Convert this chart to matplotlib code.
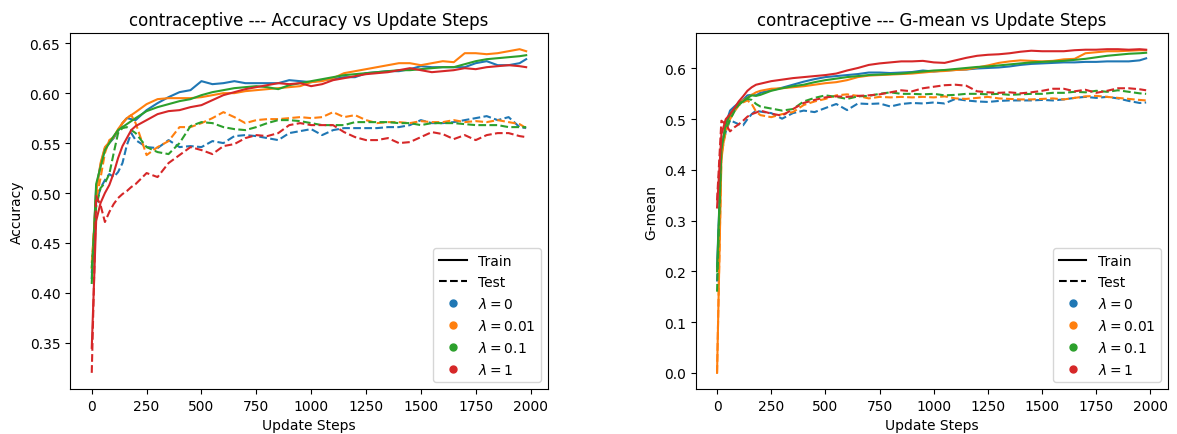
import matplotlib
matplotlib.use("Agg")
import matplotlib.pyplot as plt
from matplotlib.lines import Line2D

steps = [0, 20, 40, 60, 80, 100, 120, 140, 160, 180, 200] + list(range(250, 2000, 50)) + [1980]

lambdas = ["0", "0.01", "0.1", "1"]
colors = ["#1f77b4", "#ff7f0e", "#2ca02c", "#d62728"]

# ---- accuracy ----
acc_train_0 = [0.415, 0.505, 0.528, 0.545, 0.550, 0.555, 0.562, 0.570, 0.575, 0.574, 0.573,
               0.583, 0.590, 0.596, 0.601, 0.603, 0.612, 0.609, 0.610, 0.612, 0.610, 0.610,
               0.610, 0.610, 0.613, 0.612, 0.611, 0.613, 0.614, 0.616, 0.616, 0.620, 0.621,
               0.622, 0.622, 0.624, 0.627, 0.626, 0.626, 0.626, 0.626, 0.630, 0.632, 0.628,
               0.628, 0.630, 0.634]
acc_train_001 = [0.425, 0.500, 0.530, 0.546, 0.551, 0.556, 0.564, 0.570, 0.575, 0.578, 0.581,
                 0.589, 0.594, 0.595, 0.595, 0.595, 0.596, 0.598, 0.600, 0.600, 0.602, 0.603,
                 0.604, 0.605, 0.606, 0.607, 0.611, 0.612, 0.615, 0.620, 0.622, 0.624, 0.626,
                 0.628, 0.630, 0.630, 0.628, 0.630, 0.632, 0.631, 0.640, 0.640, 0.639, 0.640,
                 0.642, 0.644, 0.642]
acc_train_01 = [0.410, 0.509, 0.526, 0.543, 0.550, 0.557, 0.563, 0.566, 0.569, 0.572, 0.575,
                0.582, 0.586, 0.589, 0.592, 0.594, 0.598, 0.601, 0.603, 0.605, 0.606, 0.607,
                0.606, 0.604, 0.608, 0.610, 0.612, 0.614, 0.616, 0.618, 0.619, 0.620, 0.621,
                0.622, 0.623, 0.623, 0.624, 0.625, 0.626, 0.626, 0.629, 0.632, 0.634, 0.635,
                0.636, 0.637, 0.638]
acc_train_1 = [0.345, 0.472, 0.490, 0.500, 0.508, 0.520, 0.535, 0.547, 0.555, 0.563, 0.567,
               0.573, 0.579, 0.582, 0.583, 0.586, 0.588, 0.593, 0.598, 0.601, 0.604, 0.606,
               0.608, 0.610, 0.609, 0.610, 0.607, 0.609, 0.613, 0.615, 0.617, 0.619, 0.620,
               0.621, 0.623, 0.625, 0.623, 0.621, 0.622, 0.623, 0.625, 0.624, 0.626, 0.627,
               0.628, 0.627, 0.626]

acc_test_0 = [0.420, 0.490, 0.505, 0.513, 0.519, 0.516, 0.521, 0.530, 0.548, 0.560, 0.553,
              0.546, 0.545, 0.553, 0.546, 0.547, 0.546, 0.552, 0.550, 0.557, 0.558, 0.557,
              0.555, 0.553, 0.560, 0.562, 0.564, 0.558, 0.563, 0.565, 0.565, 0.565, 0.565,
              0.566, 0.566, 0.568, 0.573, 0.570, 0.570, 0.571, 0.573, 0.575, 0.577, 0.573,
              0.576, 0.566, 0.565]
acc_test_001 = [0.430, 0.493, 0.515, 0.540, 0.553, 0.556, 0.563, 0.570, 0.575, 0.578, 0.570,
                0.538, 0.546, 0.552, 0.566, 0.566, 0.570, 0.575, 0.581, 0.576, 0.570, 0.573,
                0.574, 0.574, 0.575, 0.576, 0.575, 0.576, 0.581, 0.576, 0.578, 0.573, 0.570,
                0.571, 0.571, 0.570, 0.572, 0.571, 0.571, 0.573, 0.571, 0.572, 0.571, 0.573,
                0.571, 0.569, 0.565]
acc_test_01 = [0.425, 0.486, 0.505, 0.510, 0.519, 0.540, 0.560, 0.565, 0.566, 0.563, 0.560,
               0.546, 0.541, 0.539, 0.550, 0.567, 0.571, 0.570, 0.566, 0.564, 0.563, 0.566,
               0.570, 0.573, 0.573, 0.572, 0.570, 0.568, 0.568, 0.568, 0.571, 0.571, 0.571,
               0.571, 0.570, 0.570, 0.568, 0.570, 0.570, 0.570, 0.569, 0.568, 0.568, 0.568,
               0.566, 0.566, 0.566]
acc_test_1 = [0.320, 0.497, 0.488, 0.471, 0.481, 0.489, 0.495, 0.499, 0.502, 0.506, 0.509,
              0.520, 0.516, 0.530, 0.538, 0.546, 0.543, 0.539, 0.547, 0.549, 0.555, 0.558,
              0.557, 0.560, 0.568, 0.570, 0.568, 0.568, 0.568, 0.561, 0.556, 0.553, 0.553,
              0.555, 0.550, 0.551, 0.556, 0.561, 0.559, 0.554, 0.558, 0.553, 0.558, 0.560,
              0.560, 0.557, 0.556]

# ---- G-mean ----
gm_train_0 = [0.210, 0.440, 0.490, 0.517, 0.525, 0.532, 0.538, 0.547, 0.548, 0.547, 0.552,
              0.557, 0.562, 0.568, 0.574, 0.579, 0.583, 0.585, 0.587, 0.589, 0.592, 0.592,
              0.591, 0.592, 0.593, 0.596, 0.594, 0.596, 0.597, 0.598, 0.600, 0.601, 0.602,
              0.604, 0.607, 0.609, 0.610, 0.611, 0.612, 0.612, 0.613, 0.613, 0.614, 0.614,
              0.614, 0.616, 0.620]
gm_train_001 = [0.000, 0.420, 0.490, 0.505, 0.520, 0.530, 0.537, 0.542, 0.548, 0.553, 0.556,
                0.560, 0.561, 0.563, 0.565, 0.568, 0.571, 0.573, 0.577, 0.583, 0.586, 0.587,
                0.588, 0.589, 0.590, 0.592, 0.594, 0.595, 0.597, 0.598, 0.602, 0.606, 0.611,
                0.614, 0.616, 0.615, 0.614, 0.615, 0.618, 0.619, 0.630, 0.632, 0.634, 0.634,
                0.635, 0.636, 0.636]
gm_train_01 = [0.200, 0.440, 0.490, 0.510, 0.520, 0.528, 0.535, 0.542, 0.547, 0.546, 0.548,
               0.556, 0.561, 0.565, 0.568, 0.573, 0.577, 0.580, 0.583, 0.585, 0.587, 0.588,
               0.589, 0.590, 0.592, 0.594, 0.596, 0.597, 0.599, 0.601, 0.603, 0.604, 0.606,
               0.608, 0.610, 0.612, 0.613, 0.614, 0.615, 0.617, 0.619, 0.622, 0.625, 0.627,
               0.629, 0.630, 0.631]
gm_train_1 = [0.326, 0.470, 0.500, 0.510, 0.522, 0.535, 0.545, 0.556, 0.563, 0.568, 0.570,
              0.575, 0.578, 0.581, 0.583, 0.585, 0.587, 0.590, 0.596, 0.601, 0.607, 0.610,
              0.612, 0.614, 0.614, 0.615, 0.612, 0.611, 0.616, 0.621, 0.625, 0.627, 0.628,
              0.630, 0.633, 0.635, 0.634, 0.634, 0.634, 0.636, 0.637, 0.637, 0.638, 0.638,
              0.637, 0.638, 0.637]

gm_test_0 = [0.180, 0.440, 0.475, 0.498, 0.494, 0.490, 0.488, 0.500, 0.510, 0.517, 0.515,
             0.512, 0.501, 0.512, 0.517, 0.514, 0.522, 0.530, 0.518, 0.531, 0.530, 0.531,
             0.525, 0.530, 0.532, 0.531, 0.533, 0.531, 0.540, 0.537, 0.535, 0.534, 0.536,
             0.537, 0.537, 0.537, 0.538, 0.537, 0.539, 0.542, 0.544, 0.542, 0.544, 0.541,
             0.536, 0.532, 0.533]
gm_test_001 = [0.000, 0.430, 0.475, 0.500, 0.515, 0.527, 0.533, 0.537, 0.530, 0.515, 0.508,
               0.504, 0.510, 0.514, 0.528, 0.535, 0.540, 0.547, 0.549, 0.546, 0.541, 0.544,
               0.543, 0.544, 0.543, 0.544, 0.543, 0.545, 0.541, 0.540, 0.542, 0.544, 0.541,
               0.540, 0.539, 0.539, 0.540, 0.541, 0.539, 0.542, 0.545, 0.546, 0.544, 0.542,
               0.540, 0.538, 0.537]
gm_test_01 = [0.160, 0.450, 0.480, 0.500, 0.515, 0.530, 0.537, 0.540, 0.538, 0.530, 0.525,
              0.521, 0.517, 0.520, 0.535, 0.542, 0.547, 0.544, 0.540, 0.545, 0.546, 0.550,
              0.553, 0.550, 0.550, 0.549, 0.550, 0.547, 0.548, 0.550, 0.550, 0.549, 0.550,
              0.548, 0.549, 0.550, 0.550, 0.552, 0.552, 0.554, 0.553, 0.556, 0.554, 0.557,
              0.554, 0.551, 0.550]
gm_test_1 = [0.340, 0.497, 0.490, 0.476, 0.484, 0.490, 0.497, 0.505, 0.510, 0.513, 0.517,
             0.511, 0.507, 0.520, 0.532, 0.538, 0.543, 0.545, 0.544, 0.546, 0.547, 0.549,
             0.553, 0.557, 0.555, 0.561, 0.564, 0.567, 0.568, 0.566, 0.555, 0.553, 0.552,
             0.553, 0.551, 0.553, 0.556, 0.560, 0.560, 0.555, 0.558, 0.552, 0.556, 0.561,
             0.561, 0.559, 0.557]

acc_train = [acc_train_0, acc_train_001, acc_train_01, acc_train_1]
acc_test = [acc_test_0, acc_test_001, acc_test_01, acc_test_1]
gm_train = [gm_train_0, gm_train_001, gm_train_01, gm_train_1]
gm_test = [gm_test_0, gm_test_001, gm_test_01, gm_test_1]

fig = plt.figure(figsize=(11.77, 4.35), dpi=100)
ax1 = fig.add_axes([0.0595, 0.1034, 0.406, 0.8184])
ax2 = fig.add_axes([0.591, 0.1034, 0.401, 0.8184])

panels = [(ax1, acc_train, acc_test, "Accuracy"), (ax2, gm_train, gm_test, "G-mean")]
for ax, tr, te, name in panels:
    for i in range(4):
        ax.plot(steps, tr[i], color=colors[i], lw=1.5)
        ax.plot(steps, te[i], color=colors[i], lw=1.5, ls="--")
    ax.set_title(f"contraceptive --- {name} vs Update Steps", fontsize=12)
    ax.set_xlabel("Update Steps")
    ax.set_ylabel(name)
    ax.set_xticks(range(0, 2001, 250))

    handles = [Line2D([], [], color="black", lw=1.5, label="Train"),
               Line2D([], [], color="black", lw=1.5, ls="--", label="Test")]
    for c, lam in zip(colors, lambdas):
        handles.append(Line2D([], [], color=c, marker="o", ls="none", ms=5,
                              label=rf"$\lambda = {lam}$"))
    ax.legend(handles=handles, loc="lower right", fontsize=10)

ax1.set_yticks([0.35, 0.40, 0.45, 0.50, 0.55, 0.60, 0.65])

fig.savefig("out.png", dpi=100)
